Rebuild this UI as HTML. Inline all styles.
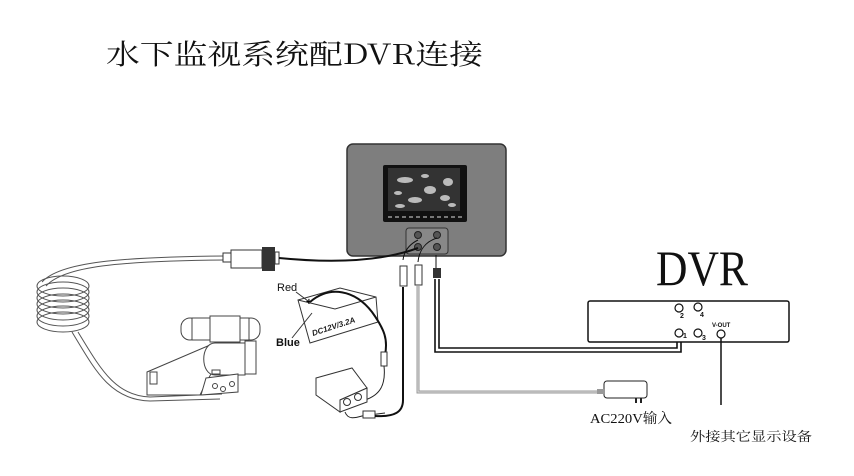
<!DOCTYPE html>
<html><head><meta charset="utf-8"><style>
html,body{margin:0;padding:0;background:#fff;}
svg{display:block;}
</style></head><body>
<svg width="854" height="476" viewBox="0 0 854 476" xmlns="http://www.w3.org/2000/svg">
<rect width="854" height="476" fill="#fff"/>
<text x="106" y="64" font-family="'Noto Serif CJK SC','Liberation Serif',serif" font-size="28" fill="#111" textLength="377" lengthAdjust="spacingAndGlyphs">水下监视系统配DVR连接</text>

<!-- monitor -->
<rect x="347" y="144" width="159" height="112" rx="6" fill="#7e7e7e" stroke="#333" stroke-width="1.5"/>
<rect x="383" y="165" width="84" height="57" rx="2" fill="#111"/>
<rect x="388" y="168" width="72" height="43" fill="#333"/>
<g fill="#bbb"><ellipse cx="405" cy="180" rx="8" ry="3"/><ellipse cx="430" cy="190" rx="6" ry="4"/><ellipse cx="448" cy="182" rx="5" ry="4"/><ellipse cx="415" cy="200" rx="7" ry="3"/><ellipse cx="445" cy="198" rx="5" ry="3"/><ellipse cx="398" cy="193" rx="4" ry="2"/><ellipse cx="425" cy="176" rx="4" ry="2"/><ellipse cx="452" cy="205" rx="4" ry="2"/><ellipse cx="400" cy="206" rx="5" ry="2"/></g>
<line x1="388" y1="217" x2="462" y2="217" stroke="#ddd" stroke-width="1" stroke-dasharray="4,3"/>
<rect x="406" y="228" width="42" height="26" rx="3" fill="#888" stroke="#333"/>
<circle cx="418" cy="235" r="3.5" fill="#555" stroke="#222"/><circle cx="437" cy="235" r="3.5" fill="#555" stroke="#222"/>
<circle cx="418" cy="247" r="3.5" fill="#555" stroke="#222"/><circle cx="437" cy="247" r="3.5" fill="#555" stroke="#222"/>

<!-- camera cable coil -->
<g fill="none" stroke="#555" stroke-width="1">
<path d="M42 282 C60 262 120 257 225 256"/><path d="M46 286 C64 266 120 261 225 260"/>
<ellipse cx="63" cy="286" rx="26" ry="10"/><ellipse cx="63" cy="292" rx="26" ry="10"/><ellipse cx="63" cy="298" rx="26" ry="10"/><ellipse cx="63" cy="304" rx="26" ry="10"/><ellipse cx="63" cy="310" rx="26" ry="10"/><ellipse cx="63" cy="316" rx="26" ry="10"/><ellipse cx="63" cy="322" rx="26" ry="10"/>
<path d="M72 332 C95 370 110 400 150 401 L220 399"/><path d="M78 332 C100 368 115 396 150 397 L222 394"/>
</g>
<rect x="223" y="253" width="8" height="9" fill="#fff" stroke="#333"/>
<rect x="231" y="250" width="31" height="18" fill="#fff" stroke="#333"/>
<rect x="262" y="247" width="13" height="24" fill="#333"/>
<rect x="275" y="252" width="4" height="12" fill="#fff" stroke="#333"/>
<path d="M279 258 C330 263 380 262 418 248" fill="none" stroke="#111" stroke-width="2"/>

<!-- camera -->
<g fill="#fff" stroke="#444" stroke-width="1">
<path d="M147 372 L210 345 L212 372 L205 385 L200 395 L147 395 Z"/>
<rect x="181" y="318" width="18" height="22" rx="9"/>
<rect x="242" y="318" width="18" height="22" rx="9"/>
<rect x="192" y="318" width="57" height="22"/>
<rect x="210" y="316" width="30" height="26"/>
<path d="M215 343 L245 343 L245 375 L215 375 C200 375 200 343 215 343 Z"/>
<rect x="245" y="341" width="11" height="33"/>
<path d="M206 378 L238 374 L238 392 L201 395 Z"/>
<circle cx="215" cy="386" r="2.5"/><circle cx="223" cy="389" r="2.5"/><circle cx="232" cy="384" r="2.5"/>
<rect x="212" y="370" width="8" height="4"/>
<rect x="150" y="372" width="7" height="12"/>
</g>

<!-- battery -->
<g fill="#fff" stroke="#333" stroke-width="1">
<polygon points="298,300 340,288 376,297 378,322 310,343"/>
<polyline points="298,300 335,309 376,297" fill="none"/>
</g>
<text x="313" y="336" font-family="'Liberation Sans',sans-serif" font-size="8" font-style="italic" font-weight="bold" fill="#222" transform="rotate(-18 313 336)">DC12V/3.2A</text>
<text x="277" y="291" font-family="'Liberation Sans',sans-serif" font-size="11" fill="#111">Red</text>
<text x="276" y="346" font-family="'Liberation Sans',sans-serif" font-size="11" font-weight="bold" fill="#111">Blue</text>
<line x1="296" y1="292" x2="308" y2="301" stroke="#333"/>
<line x1="292" y1="338" x2="312" y2="313" stroke="#333"/>
<text x="306" y="305" font-size="10" font-family="'Liberation Sans',sans-serif" font-weight="bold">+</text>
<path d="M310 302 C330 285 355 290 372 312 C385 330 388 340 385 355" fill="none" stroke="#111" stroke-width="2"/>
<rect x="381" y="352" width="6" height="14" fill="#fff" stroke="#333"/>
<path d="M384 366 C386 385 380 395 365 400" fill="none" stroke="#222" stroke-width="1"/>

<!-- controller box -->
<g fill="#fff" stroke="#333" stroke-width="1">
<polygon points="316,378 352,368 367,388 340,400 340,412 316,395"/>
<polygon points="340,400 367,388 367,402 340,412"/>
<circle cx="347" cy="402" r="3.5"/><circle cx="358" cy="397" r="3.5"/>
</g>
<path d="M345 412 C348 420 355 418 362 416 L385 413" fill="none" stroke="#222"/>
<rect x="363" y="411" width="12" height="7" fill="#fff" stroke="#333"/>

<!-- left RCA (black cable) -->
<path d="M418 240 C408 245 404 252 403 260" fill="none" stroke="#111"/>
<rect x="400" y="266" width="7" height="20" fill="#fff" stroke="#333"/>
<path d="M403 287 L403 400 C403 412 395 417 375 416" fill="none" stroke="#111" stroke-width="2"/>
<!-- middle RCA (gray power) -->
<path d="M437 238 C424 242 419 252 418 262" fill="none" stroke="#111"/>
<rect x="415" y="265" width="7" height="20" fill="#fff" stroke="#333"/>
<path d="M418 286 L418 392 L605 392" fill="none" stroke="#999" stroke-width="3"/>
<path d="M418 286 L418 392 L605 392" fill="none" stroke="#ddd" stroke-width="1"/>
<rect x="604" y="381" width="43" height="17" rx="3" fill="#fff" stroke="#222"/>
<rect x="597" y="389" width="8" height="5" fill="#999"/>
<rect x="635" y="398" width="2" height="5" fill="#222"/><rect x="640" y="398" width="2" height="5" fill="#222"/>
<!-- right connector -->
<line x1="436" y1="255" x2="436" y2="268" stroke="#111"/>
<rect x="433" y="268" width="8" height="10" fill="#333"/>
<path d="M435 279 L435 352 L681 352 L681 334 M439 279 L439 348 L677 348 L677 334" fill="none" stroke="#111" stroke-width="1.6"/>

<!-- DVR -->
<text x="656" y="285" font-family="'Liberation Serif',serif" font-size="50" fill="#111" textLength="92" lengthAdjust="spacingAndGlyphs">DVR</text>
<rect x="588" y="301" width="201" height="41" rx="2" fill="#fff" stroke="#111" stroke-width="1.5"/>
<g fill="#fff" stroke="#111" stroke-width="1.2">
<circle cx="679" cy="308" r="4"/><circle cx="698" cy="307" r="4"/>
<circle cx="679" cy="333" r="4"/><circle cx="698" cy="333" r="4"/><circle cx="721" cy="334" r="4"/>
</g>
<g font-family="'Liberation Sans',sans-serif" font-size="7" font-weight="bold" fill="#111">
<text x="680" y="318">2</text><text x="700" y="317">4</text><text x="683" y="338">1</text><text x="702" y="340">3</text><text x="712" y="327" font-size="6">V-OUT</text>
</g>
<line x1="721" y1="338" x2="721" y2="405" stroke="#111" stroke-width="1.5"/>
<text x="590" y="423" font-family="'Liberation Serif','Noto Serif CJK SC',serif" font-size="14" fill="#111" textLength="82" lengthAdjust="spacingAndGlyphs">AC220V输入</text>
<text x="690" y="441" font-family="'Noto Serif CJK SC','Liberation Serif',serif" font-size="13" fill="#111" textLength="122" lengthAdjust="spacingAndGlyphs">外接其它显示设备</text>
</svg>
</body></html>
